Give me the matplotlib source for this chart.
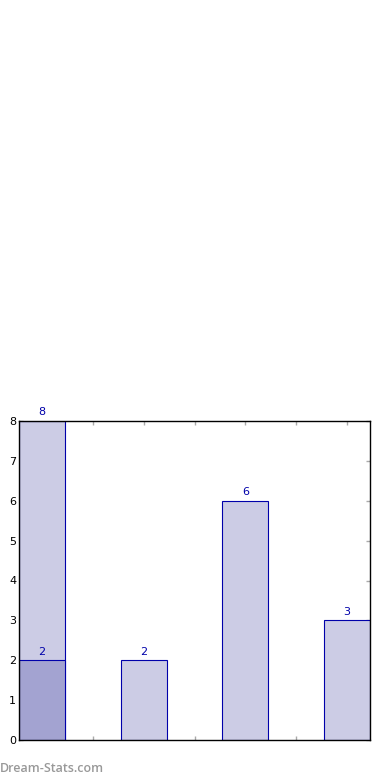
import matplotlib.pyplot as plt
import numpy as np

# Chart data
positions = [0, 1, 2, 3]
values = [8, 2, 6, 3]
overlay_positions = [0]
overlay_values = [2]
y_ticks = [0, 1, 2, 3, 4, 5, 6, 7, 8]

fill_light = '#ccccE5'
fill_dark = '#a3a3d1'
edge = '#0000aa'
label_color = '#0000aa'

fig = plt.figure(figsize=(3.9, 7.8), dpi=100)
ax = fig.add_axes([19 / 390, 40 / 780, 351 / 390, 319 / 780])

width = 0.45
ax.bar(positions, values, width=width, color=fill_light, edgecolor=edge, linewidth=0.8, zorder=2)
ax.bar(overlay_positions, overlay_values, width=width, color=fill_dark, edgecolor=edge, linewidth=0.8, zorder=3)

for x, v in zip(positions, values):
    ax.text(x, v + 0.09, str(v), ha='center', va='bottom', color=label_color, fontsize=8)
for x, v in zip(overlay_positions, overlay_values):
    ax.text(x, v + 0.09, str(v), ha='center', va='bottom', color=label_color, fontsize=8, zorder=4)

ax.set_xlim(-width / 2, 3 + width / 2)
ax.set_ylim(0, 8)
ax.set_yticks(y_ticks)
ax.set_xticks(np.arange(0, 3.5, 0.5))
ax.set_xticklabels([])

ax.tick_params(axis='both', direction='in', length=3, width=1, color='#aaaaaa',
               top=True, right=True, labelsize=8, pad=2)
for s in ax.spines.values():
    s.set_linewidth(1)
    s.set_zorder(5)

fig.text(0.0, 11 / 780, 'Dream-Stats.com', color='#999999', fontsize=9,
         family='Open Sans', fontweight='semibold', ha='left', va='center')

fig.savefig('out.png', dpi=100)
